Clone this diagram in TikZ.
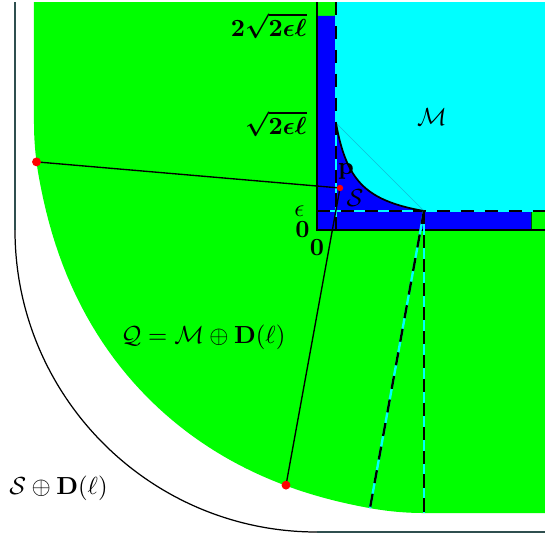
\documentclass[tikz,border=0pt]{standalone}
\usepackage{amsmath,amssymb}
\usetikzlibrary{calc}
\definecolor{slate}{HTML}{2F4F4F}
\definecolor{chordc}{RGB}{20,190,215}
\definecolor{mcyan}{RGB}{0,255,255}
\definecolor{mgreen}{RGB}{0,255,0}
\definecolor{mblue}{RGB}{0,0,255}
\definecolor{mred}{RGB}{255,0,0}
\begin{document}
\begin{tikzpicture}[x=4.05pt,y=4.05pt,
  lbl/.style={inner sep=0pt},
  dashln/.style={black, line width=0.95pt, dash pattern=on 5.3pt off 4.4pt},
  cyanln/.style={mcyan, line width=0.95pt},
  reddot/.style={circle, fill=mred, inner sep=0pt, minimum size=3.6pt},
  smalldot/.style={circle, fill=mred, inner sep=0pt, minimum size=2.6pt}]
\pgfmathsetmacro{\ev}{1.9}
\pgfmathsetmacro{\sv}{10.7}
\pgfmathsetmacro{\lv}{30.2}
\pgfmathsetmacro{\cv}{\ev*\sv}
\pgfmathsetmacro{\angA}{atan(\ev/\sv)}
\useasboundingbox (-31.7,-30.6) rectangle (22.8,23.0);
\coordinate (A) at (\ev,\sv);
\coordinate (B) at (\sv,\ev);
\coordinate (P) at (2.3,4.2);
\coordinate (Q1) at ([shift={(187.4:\lv)}]A);
\coordinate (Q2) at ([shift={(259.7:\lv)}]P);
\coordinate (D2) at ([shift={(259.7:\lv)}]B);
\coordinate (D3) at ([shift={(270:\lv)}]B);
\begin{scope}
\clip (-40,-40) rectangle (22.8,22.7);
% Q = M + D(l)
\fill[mgreen] (\ev-\lv,30) -- (\ev-\lv,\sv)
  arc[start angle=180,end angle={180+\angA},radius=\lv]
  -- plot[domain=\ev:\sv,samples=80] ({\x-\lv*(\cv/\x)/sqrt(\x*\x+(\cv/\x)^2)},{\cv/\x-\lv*\x/sqrt(\x*\x+(\cv/\x)^2)})
  arc[start angle={270-\angA},end angle=270,radius=\lv]
  -- (30,\ev-\lv) -- (30,30) -- cycle;
% M
\fill[mcyan] (\ev,30) -- (\ev,\sv) -- plot[domain=\ev:\sv,samples=80] (\x,{\cv/\x}) -- (30,\ev) -- (30,30) -- cycle;
% S
\fill[mblue] (0,0) -- (2*\sv,0) -- (2*\sv,\ev) -- (\sv,\ev)
  -- plot[domain=\sv:\ev,samples=80] (\x,{\cv/\x}) -- (\ev,2*\sv) -- (0,2*\sv) -- cycle;
\draw[black!70!green, line width=0.4pt] (2*\sv,0) -- (2*\sv,\ev);
% outline of the corner
\draw[black, line width=0.6pt] (0,30) -- (0,0) -- (30,0);
% S + D(l)
\draw[slate, line width=0.5pt] (-\lv,30) -- (-\lv,0);
\draw[black, line width=0.5pt] (-\lv,0) arc[start angle=180,end angle=270,radius=\lv];
\draw[slate, line width=0.5pt] (0,-\lv) -- (30,-\lv);
% dashed boundary lines of M
\draw[cyanln] (\ev,30) -- (\ev,0);
\draw[dashln] (\ev,30) -- (\ev,0);
\draw[cyanln] (0,\ev) -- (30,\ev);
\draw[dashln] (0,\ev) -- (30,\ev);
% chord and curve
\draw[chordc, line width=0.25pt] (A) -- (B);
\draw[black, line width=0.7pt] plot[domain=\ev:\sv,samples=80] (\x,{\cv/\x});
% segments from p
\draw[black, line width=0.55pt] (Q1) -- (P) -- (Q2);
\draw[cyanln] (B) -- (D2);
\draw[dashln] (B) -- (D2);
\draw[cyanln] (B) -- (D3);
\draw[dashln] (B) -- (D3);
\end{scope}
\node[smalldot] (pd) at (P) {};
\node[reddot] (q1d) at (Q1) {};
\node[reddot] (q2d) at (Q2) {};
% labels
\node[lbl, anchor=east] (l2s) at (-1.0,20.4) {$\boldsymbol{2\sqrt{2\epsilon\ell}}$};
\node[lbl, anchor=east] (ls) at (-1.0,10.6) {$\boldsymbol{\sqrt{2\epsilon\ell}}$};
\node[lbl, anchor=east] (le) at (-1.2,1.85) {$\epsilon$};
\node[lbl, anchor=east] (l0a) at (-0.7,0) {$\mathbf{0}$};
\node[lbl] (l0b) at (0,-1.8) {$\mathbf{0}$};
\node[lbl] (lM) at (11.5,11.3) {$\mathcal{M}$};
\node[lbl] (lp) at (2.9,5.85) {$\mathbf{p}$};
\node[lbl] (lS) at (3.8,3.15) {$\mathcal{S}$};
\node[lbl] (lQ) at (-11.37,-10.75) {$\mathcal{Q}=\mathcal{M}\oplus\mathbf{D}(\ell)$};
\node[lbl] (lSD) at (-25.85,-25.8) {$\mathcal{S}\oplus\mathbf{D}(\ell)$};
\end{tikzpicture}
\end{document}
